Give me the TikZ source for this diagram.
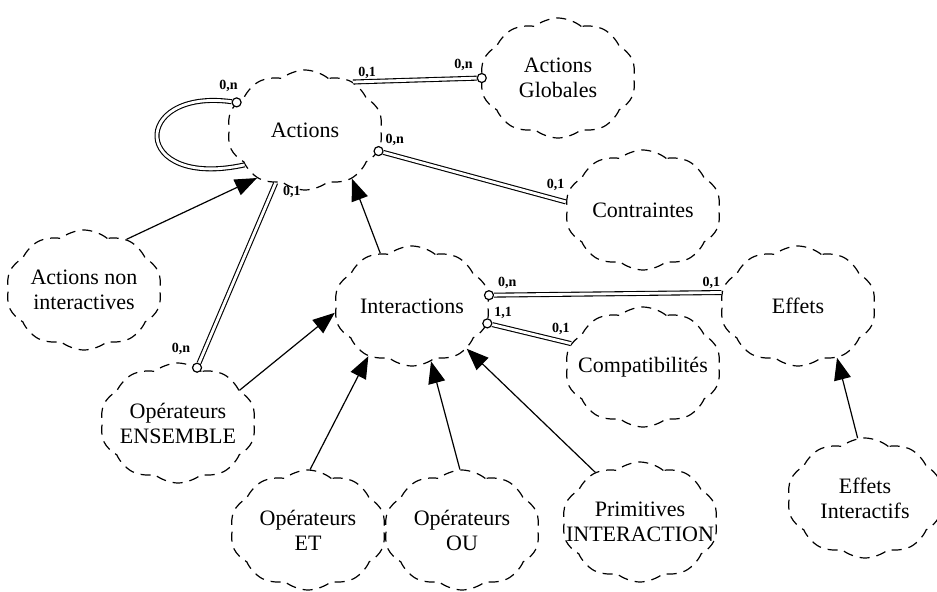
\documentclass[tikz,border=0pt]{standalone}
\usepackage{fontspec}
\setmainfont{Liberation Serif}
\usetikzlibrary{shapes.symbols, arrows.meta, positioning}
\tikzset{
    entite/.style={draw, cloud, cloud puffs=10, cloud puff arc=80, cloud ignores aspect, dash pattern=on 5pt off 3.5pt, line width=0.6pt, minimum width=78pt, minimum height=60pt, inner sep=0pt},
    nom/.style={align=center, inner sep=0pt, font=\fontsize{11}{12.5}\selectfont},
    card/.style={font=\fontsize{7}{8}\selectfont\bfseries, inner sep=0.5pt},
    trou/.style={draw, circle, fill=white, inner sep=0pt, minimum size=4.5pt, line width=0.6pt},
    lien/.style={double, double distance=1.4pt, line width=0.55pt},
    arrow/.style={-{Triangle[length=11pt, width=8.5pt]}, line width=0.6pt}
}

\begin{document}
\begin{tikzpicture}[x=0.5pt, y=-0.5pt]
    \useasboundingbox (0,0) rectangle (937,591);

    % Entités
    \node (actions) [entite, label={[nom]center:Actions}] at (305,130) {};
    \node (globales) [entite, label={[nom]center:Actions\\Globales}] at (558,78) {};
    \node (contraintes) [entite, label={[nom]center:Contraintes}] at (643,210) {};
    \node (interactions) [entite, label={[nom]center:Interactions}] at (412,306) {};
    \node (effets) [entite, label={[nom]center:Effets}] at (798,306) {};
    \node (compat) [entite, label={[nom]center:Compatibilités}] at (643,367) {};
    \node (noninter) [entite, label={[nom]center:Actions non\\interactives}] at (84,290) {};
    \node (ensemble) [entite, label={[nom]center:Opérateurs\\ENSEMBLE}] at (178,423) {};
    \node (et) [entite, label={[nom]center:Opérateurs\\ET}] at (308,530) {};
    \node (ou) [entite, label={[nom]center:Opérateurs\\OU}] at (462,530) {};
    \node (primitives) [entite, label={[nom]center:Primitives\\INTERACTION}] at (640,522) {};
    \node (effinter) [entite, label={[nom]center:Effets\\Interactifs}] at (865,498) {};

    % Héritage
    \draw [arrow] (noninter.50) -- (actions.225);
    \draw [arrow] (interactions.121) -- (actions.314);
    \draw [arrow] (ensemble.28) -- (interactions.185);
    \draw [arrow] (et.88) -- (interactions.229);
    \draw [arrow] (ou.92) -- (interactions.289);
    \draw [arrow] (primitives.132) -- (interactions.322);
    \draw [arrow] (effinter.97) -- (effets.307);

    % Associations
    \node (c1) [trou] at (globales.180) {};
    \coordinate (e1) at (actions.45);
    \draw [lien] (e1) -- (c1);
    \node [card, above right=1pt and 2pt of e1] {0,1};
    \node [card, above left=1pt and 2pt of c1] {0,n};

    \node (c2) [trou] at (actions.344) {};
    \coordinate (e2) at (contraintes.174);
    \draw [lien] (c2) -- (e2);
    \node [card, above right=0pt and 1pt of c2] {0,n};
    \node [card, above left=5pt and 0pt of e2] {0,1};

    \node (c3) [trou] at (ensemble.71) {};
    \coordinate (e3) at (actions.241);
    \draw [lien] (c3) -- (e3);
    \node [card, below right=1pt and 3pt of e3] {0,1};
    \node [card, above left=4pt and 1pt of c3] {0,n};

    \node (c4) [trou] at (interactions.8) {};
    \coordinate (e4) at (effets.170);
    \draw [lien] (c4) -- (e4);
    \node [card, above right=1pt and 2pt of c4] {0,n};
    \node [card, above left=1pt and 0pt of e4] {0,1};

    \node (c5) [trou] at (interactions.347) {};
    \coordinate (e5) at (compat.162);
    \draw [lien] (c5) -- (e5);
    \node [card, above right=0pt and 1pt of c5] {1,1};
    \node [card, above left=4pt and 0pt of e5] {0,1};

    % Boucle sur Actions
    \node (c6) [trou] at (actions.158) {};
    \coordinate (e6) at (actions.210);
    \draw [lien] (c6) .. controls (130,88) and (130,190) .. (e6);
    \node [card, above left=3pt and -3pt of c6] {0,n};

\end{tikzpicture}
\end{document}
